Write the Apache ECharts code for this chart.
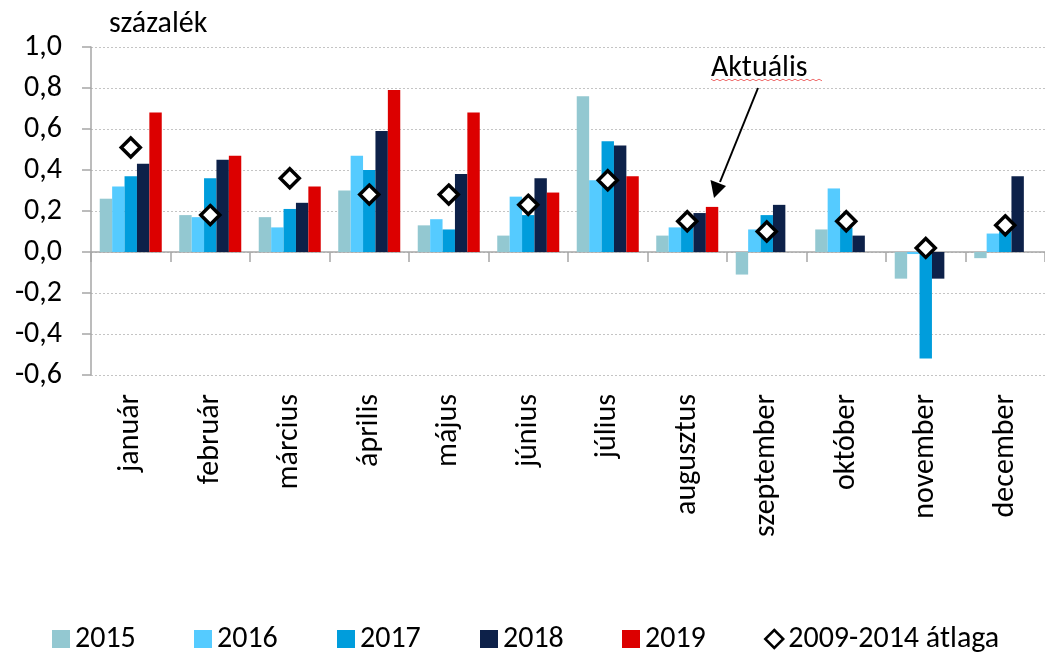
<!DOCTYPE html>
<html>
<head>
<meta charset="utf-8">
<script src="https://cdn.jsdelivr.net/npm/echarts@6/dist/echarts.min.js"></script>
<style>
  html, body { margin: 0; padding: 0; background: #fff; }
  #chart { width: 1045px; height: 652px; }
</style>
</head>
<body>
<div id="chart"></div>
<script>
const FONT = 'Carlito, Lato, sans-serif';
const FS = 30;

const months = ['január', 'február', 'március', 'április', 'május', 'június',
  'július', 'augusztus', 'szeptember', 'október', 'november', 'december'];

const y2015 = [0.26, 0.18, 0.17, 0.30, 0.13, 0.08, 0.76, 0.08, -0.11, 0.11, -0.13, -0.03];
const y2016 = [0.32, 0.17, 0.12, 0.47, 0.16, 0.27, 0.35, 0.12, 0.11, 0.31, -0.01, 0.09];
const y2017 = [0.37, 0.36, 0.21, 0.40, 0.11, 0.18, 0.54, 0.14, 0.18, 0.12, -0.52, 0.10];
const y2018 = [0.43, 0.45, 0.24, 0.59, 0.38, 0.36, 0.52, 0.19, 0.23, 0.08, -0.13, 0.37];
const y2019 = [0.68, 0.47, 0.32, 0.79, 0.68, 0.29, 0.37, 0.22, null, null, null, null];
const avg0914 = [0.51, 0.18, 0.36, 0.28, 0.28, 0.23, 0.35, 0.15, 0.10, 0.15, 0.02, 0.13];

const barSeries = [
  { name: '2015', data: y2015, color: '#93c8d1' },
  { name: '2016', data: y2016, color: '#55cbff' },
  { name: '2017', data: y2017, color: '#009ddc' },
  { name: '2018', data: y2018, color: '#0d2149' },
  { name: '2019', data: y2019, color: '#dc0000' }
];
const avgName = '2009-2014 átlaga';

const chart = echarts.init(document.getElementById('chart'), null, { renderer: 'canvas' });

const series = barSeries.map(function (s) {
  return {
    type: 'bar',
    name: s.name,
    data: s.data,
    barGap: 0,
    barCategoryGap: '22%',
    itemStyle: { color: s.color }
  };
});
series.push({
  type: 'scatter',
  name: avgName,
  data: avg0914,
  symbol: 'diamond',
  symbolSize: 19,
  z: 5,
  itemStyle: { color: '#fff', borderColor: '#000', borderWidth: 3.5, opacity: 1 }
});

// one legend component per item so the spacing follows the original
const legendLeft = [47, 189, 332, 475, 617, 759];
const legendItems = barSeries.map(function (s) {
  return { name: s.name, icon: 'rect', itemStyle: { color: s.color, borderWidth: 0 } };
}).concat([{
  name: avgName, icon: 'diamond',
  itemStyle: { color: '#fff', borderColor: '#000', borderWidth: 2.5 }
}]);
const legends = legendItems.map(function (item, i) {
  return {
    data: [item],
    left: legendLeft[i],
    top: 619,
    itemWidth: 18,
    itemHeight: 18,
    itemGap: 0,
    selectedMode: false,
    textStyle: { fontFamily: FONT, fontSize: FS, color: '#000' }
  };
});

// red spell-check squiggle under "Aktuális"
const squiggle = [];
for (let x = 711; x <= 822; x += 3) {
  squiggle.push([x, 80 + ((x - 711) / 3 % 2 ? 1 : -1) * 0.8]);
}

const option = {
  animation: false,
  backgroundColor: '#fff',
  title: {
    text: 'százalék',
    left: 104,
    top: 4,
    textStyle: { fontFamily: FONT, fontSize: FS, fontWeight: 'normal', color: '#000' }
  },
  legend: legends,
  grid: { left: 91, top: 47, width: 957, height: 328, containLabel: false },
  xAxis: {
    type: 'category',
    data: months,
    axisLine: { onZero: true, lineStyle: { color: '#a6a6a6', width: 1.5 } },
    axisTick: { show: true, length: 10, lineStyle: { color: '#a6a6a6', width: 1.5 } },
    axisLabel: {
      rotate: 90,
      margin: 19,
      interval: 0,
      fontFamily: FONT,
      fontSize: FS,
      color: '#000'
    },
    splitLine: { show: false }
  },
  yAxis: {
    type: 'value',
    min: -0.6,
    max: 1.0,
    interval: 0.2,
    axisLine: { show: true, lineStyle: { color: '#a6a6a6', width: 1.5 } },
    axisTick: { show: true, length: 9, lineStyle: { color: '#a6a6a6', width: 1.5 } },
    axisLabel: {
      margin: 29,
      fontFamily: FONT,
      fontSize: FS,
      color: '#000',
      formatter: function (v) { return v.toFixed(1).replace('.', ','); }
    },
    splitLine: { show: true, lineStyle: { color: '#c4c4c4', width: 1, type: [2, 2] } }
  },
  series: series,
  graphic: [
    {
      type: 'text',
      left: 711,
      top: 53,
      style: { text: 'Aktuális', fontFamily: FONT, fontSize: FS, fill: '#000' },
      z: 10
    },
    {
      type: 'polyline',
      shape: { points: squiggle },
      style: { stroke: '#f07070', lineWidth: 1, fill: null },
      z: 10
    },
    {
      type: 'line',
      shape: { x1: 758, y1: 88, x2: 720, y2: 182 },
      style: { stroke: '#000', lineWidth: 2 },
      z: 10
    },
    {
      type: 'polygon',
      shape: { points: [[714, 198], [710.5, 180], [726, 186]] },
      style: { fill: '#000' },
      z: 10
    }
  ]
};

chart.setOption(option);
</script>
</body>
</html>
